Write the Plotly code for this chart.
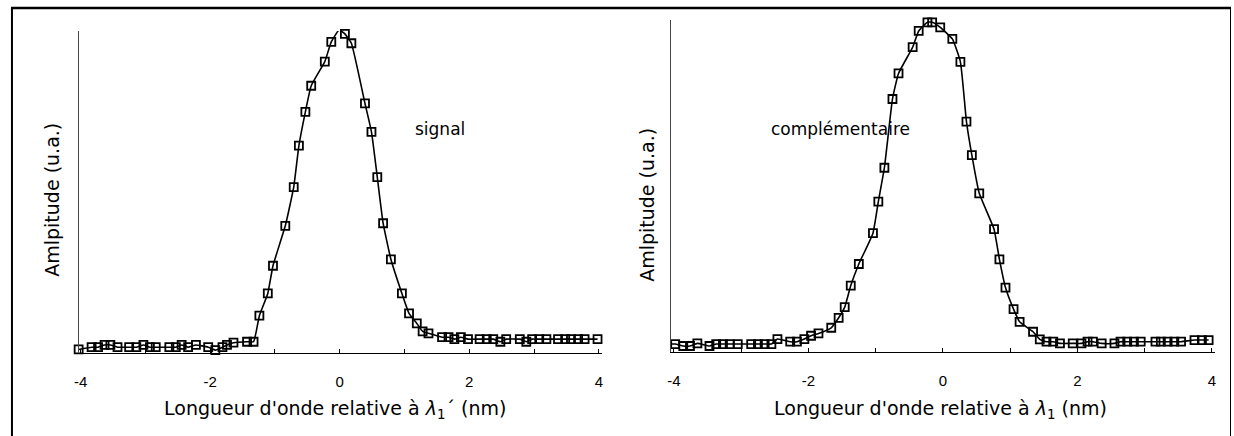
import plotly.graph_objects as go

# ---- data: signal (left panel) ----
signal_x = [-4.03, -3.83, -3.73, -3.63, -3.54, -3.43, -3.25, -3.14, -3.03, -2.93, -2.84, -2.63, -2.53,
            -2.44, -2.34, -2.22, -2.03, -1.92, -1.81, -1.74, -1.64, -1.43, -1.33, -1.24, -1.11, -1.03,
            -0.84, -0.71, -0.63, -0.53, -0.44, -0.23, -0.13, -0.01, 0.08, 0.18, 0.39, 0.49, 0.58, 0.67,
            0.79, 0.96, 1.07, 1.19, 1.28, 1.37, 1.58, 1.68, 1.77, 1.87, 1.98, 2.16, 2.27, 2.37, 2.48,
            2.57, 2.78, 2.88, 2.97, 3.08, 3.19, 3.37, 3.48, 3.57, 3.68, 3.78, 3.98]
signal_y = [0.011, 0.018, 0.018, 0.025, 0.025, 0.018, 0.018, 0.018, 0.025, 0.018, 0.018, 0.018, 0.018,
            0.025, 0.018, 0.025, 0.018, 0.009, 0.018, 0.025, 0.032, 0.035, 0.035, 0.116, 0.185, 0.271,
            0.395, 0.515, 0.644, 0.749, 0.830, 0.905, 0.966, 1.003, 0.991, 0.962, 0.775, 0.687, 0.546,
            0.403, 0.291, 0.185, 0.123, 0.092, 0.067, 0.061, 0.049, 0.049, 0.043, 0.049, 0.043, 0.043,
            0.043, 0.043, 0.035, 0.043, 0.043, 0.035, 0.043, 0.043, 0.043, 0.043, 0.043, 0.043, 0.043,
            0.043, 0.043]

# ---- data: complementaire (right panel) ----
idler_x = [-4.06, -3.98, -3.86, -3.76, -3.65, -3.47, -3.37, -3.27, -3.17, -3.05, -2.85, -2.75, -2.65,
           -2.55, -2.46, -2.27, -2.17, -2.06, -1.96, -1.85, -1.66, -1.55, -1.46, -1.37, -1.25, -1.04,
           -0.96, -0.87, -0.75, -0.66, -0.45, -0.36, -0.23, -0.16, -0.04, 0.14, 0.26, 0.35, 0.43, 0.54,
           0.76, 0.84, 0.93, 1.05, 1.14, 1.34, 1.44, 1.54, 1.64, 1.74, 1.93, 2.06, 2.15, 2.23, 2.36,
           2.55, 2.64, 2.74, 2.84, 2.94, 3.16, 3.24, 3.34, 3.44, 3.54, 3.74, 3.85, 3.95]
idler_y = [0.024, 0.024, 0.018, 0.018, 0.026, 0.018, 0.024, 0.024, 0.024, 0.024, 0.024, 0.024, 0.024,
           0.024, 0.039, 0.031, 0.031, 0.039, 0.049, 0.056, 0.073, 0.103, 0.135, 0.200, 0.265, 0.358,
           0.453, 0.555, 0.762, 0.839, 0.918, 0.967, 0.993, 0.993, 0.978, 0.943, 0.874, 0.694, 0.593,
           0.478, 0.370, 0.279, 0.194, 0.129, 0.091, 0.061, 0.038, 0.031, 0.031, 0.026, 0.026, 0.026,
           0.031, 0.031, 0.026, 0.026, 0.031, 0.031, 0.031, 0.031, 0.031, 0.031, 0.031, 0.031, 0.031,
           0.036, 0.036, 0.036]

major_ticks = [-4, -2, 0, 2, 4]
tick_labels = ["-4", "-2", "0", "2", "4"]

W, H = 1234, 436
TITLE_FONT = dict(family="DejaVu Sans, sans-serif", size=19, color="black")
LABEL_FONT = dict(family="DejaVu Sans, sans-serif", size=17, color="black")
TICK_FONT = dict(family="Liberation Sans, Arial, sans-serif", size=15, color="black")

fig = go.Figure()
marker = dict(symbol="square-open", size=8, color="black", line=dict(width=1.8, color="black"))
line = dict(color="black", width=1.6, shape="spline", smoothing=0.4)

fig.add_trace(go.Scatter(x=signal_x, y=signal_y, mode="lines+markers", marker=marker, line=line,
                         xaxis="x", yaxis="y", cliponaxis=False, showlegend=False))
fig.add_trace(go.Scatter(x=idler_x, y=idler_y, mode="lines+markers", marker=marker, line=line,
                         xaxis="x2", yaxis="y2", cliponaxis=False, showlegend=False))


def xax(domain, rng, anchor):
    return dict(domain=domain, range=rng, anchor=anchor, showgrid=False, zeroline=False,
                showline=True, linecolor="black", linewidth=1, ticks="inside", ticklen=4,
                tickcolor="black", tickvals=major_ticks, ticktext=tick_labels, tickfont=TICK_FONT,
                ticklabelstandoff=15,
                minor=dict(dtick=1, tick0=-4, ticks="inside", ticklen=4, tickcolor="black", showgrid=False))


def yax(domain, anchor):
    return dict(domain=domain, range=[0, 1.0], anchor=anchor, showgrid=False, zeroline=False,
                showline=True, linecolor="#444", linewidth=1, ticks="", showticklabels=False)


fig.update_layout(
    width=W, height=H, margin=dict(l=0, r=0, t=0, b=0),
    paper_bgcolor="white", plot_bgcolor="white",
    xaxis=xax([74 / W, 600 / W], [-4.03, 4.05], "y"),
    yaxis=yax([(H - 353) / H, (H - 31) / H], "x"),
    xaxis2=xax([669 / W, 1216 / W], [-4.046, 4.046], "y2"),
    yaxis2=yax([(H - 352) / H, (H - 20) / H], "x2"),
)

annos = [
    dict(x=332 / W, y=(H - 409) / H, text="Longueur d'onde relative à <i>λ</i><sub>1</sub>´ (nm)", font=TITLE_FONT),
    dict(x=940 / W, y=(H - 409) / H, text="Longueur d'onde relative à <i>λ</i><sub>1</sub> (nm)", font=TITLE_FONT),
    dict(x=47 / W, y=(H - 200) / H, text="Amlpitude (u.a.)", textangle=-90, font=TITLE_FONT),
    dict(x=645 / W, y=(H - 205) / H, text="Amlpitude (u.a.)", textangle=-90, font=TITLE_FONT),
    dict(x=437 / W, y=(H - 129) / H, text="signal", font=LABEL_FONT),
    dict(x=840 / W, y=(H - 129) / H, text="complémentaire", font=LABEL_FONT),
]
for a in annos:
    fig.add_annotation(xref="paper", yref="paper", showarrow=False,
                       xanchor="center", yanchor="middle", **a)

# outer frame
fig.add_shape(type="line", xref="paper", yref="paper", x0=6 / W, x1=1232 / W, y0=(H - 8) / H, y1=(H - 8) / H,
              line=dict(color="black", width=2.5))
fig.add_shape(type="line", xref="paper", yref="paper", x0=7 / W, x1=7 / W, y0=(H - 8) / H, y1=-0.02,
              line=dict(color="black", width=2))
fig.add_shape(type="line", xref="paper", yref="paper", x0=1231.5 / W, x1=1231.5 / W, y0=(H - 8) / H, y1=-0.02,
              line=dict(color="black", width=1))

fig.write_html("out.html", config={"displayModeBar": False},
               post_script="document.body.style.margin='0px';")
